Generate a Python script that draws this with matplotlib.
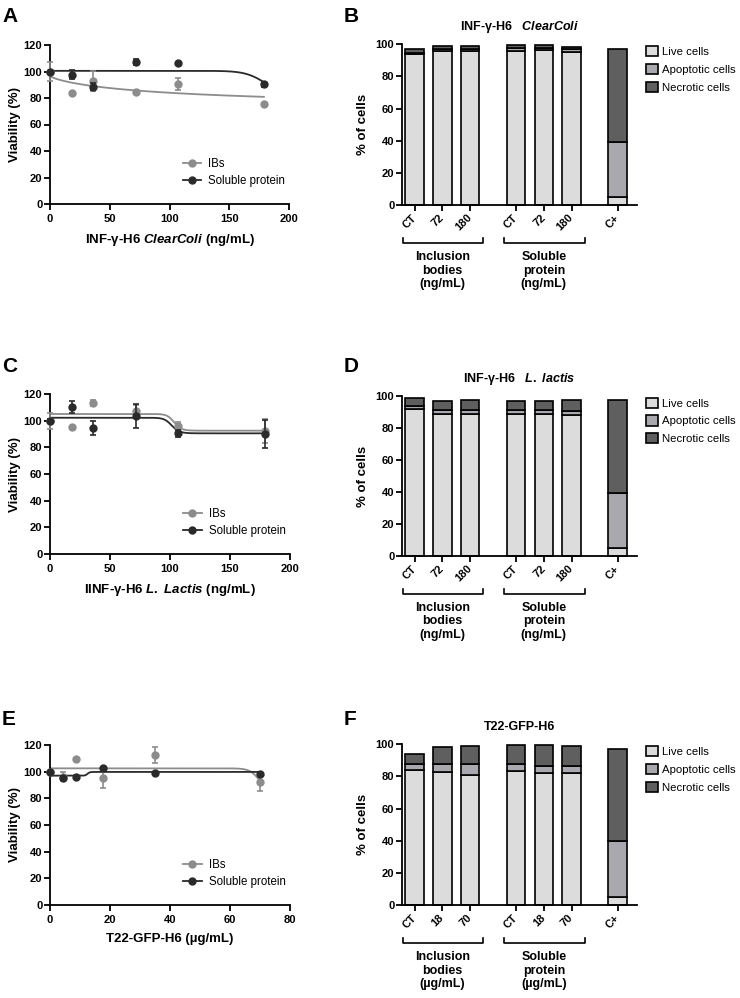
import numpy as np
import matplotlib
matplotlib.use('Agg')
import matplotlib.pyplot as plt
from matplotlib.patches import Patch
from matplotlib.lines import Line2D
import matplotlib.transforms as mtransforms

plt.rcParams['font.family'] = ['Liberation Sans', 'DejaVu Sans']
plt.rcParams['font.weight'] = 'bold'
plt.rcParams['mathtext.fontset'] = 'custom'
plt.rcParams['mathtext.it'] = 'Liberation Sans:italic:bold'
plt.rcParams['mathtext.rm'] = 'Liberation Sans:bold'
plt.rcParams['mathtext.bf'] = 'Liberation Sans:bold'

# ---------------- DATA ----------------
# Panel A : INF-gamma-H6 ClearColi viability
xA = [0, 18, 36, 72, 107, 179]
ibA = [100, 83.6, 92.9, 84.4, 90.4, 75.8]
ibA_err = [7, 0, 7.5, 0, 4.5, 0]
solA = [100, 97.7, 88.6, 107.2, 106.7, 90.4]
solA_err = [0, 3.5, 2.8, 2.2, 0.5, 1.8]
# fitted curves: (top, bottom, EC50, hill)
ibA_fit = (96.5, 70, 114, 0.805)
solA_fit = (100.5, 80, 182, 20)

# Panel C : INF-gamma-H6 L. lactis viability
xC = [0, 18, 36, 72, 107, 179]
ibC = [100, 95.5, 113, 107, 96, 92]
ibC_err = [6, 0, 2.3, 5, 2.7, 9]
solC = [100, 110, 94.8, 103.5, 90.5, 90]
solC_err = [1, 4.6, 5.2, 8.8, 2.5, 10.3]
ibC_fit = (105, 92.5, 103.5, 35)
solC_fit = (102.2, 90.5, 101.5, 32)

# Panel E : T22-GFP-H6 viability
xE = [0, 4.375, 8.75, 17.5, 35, 70]
ibE = [100, 96.3, 109.3, 95, 112.7, 92]
ibE_err = [0, 3.5, 0, 7.5, 6, 6.5]
solE = [100, 95.5, 96, 103, 98.8, 98.5]
solE_err = [0, 1.5, 0, 0, 0, 0]
ibE_fit = (102.5, 80, 70.5, 40)
solE_fit = (97, 99.8, 12.5, 34)

# Bar panels (live / apoptotic / necrotic %)
ticksBD = ["CT", "72", "180", "CT", "72", "180", "C+"]
ticksF = ["CT", "18", "70", "CT", "18", "70", "C+"]

liveB = [94, 96, 96, 96, 96.5, 95.5, 5.2]
apopB = [0.8, 1.0, 0.8, 1.5, 1.0, 1.3, 34.2]
necB = [2.1, 1.8, 2.0, 1.9, 1.9, 1.5, 57.5]

liveD = [92, 89, 88.8, 88.8, 88.8, 88.1, 4.8]
apopD = [1.8, 2.1, 2.5, 2.2, 2.5, 2.5, 34.8]
necD = [5.2, 5.9, 6.4, 5.9, 5.6, 6.9, 57.7]

liveF = [84, 83, 80.7, 83.6, 82.4, 82.4, 5.2]
apopF = [4, 4.5, 6.8, 4.4, 4.1, 4.1, 34.6]
necF = [6.2, 11, 11.5, 11.4, 12.9, 12.5, 57.1]

legend_bars = ["Live cells", "Apoptotic cells", "Necrotic cells"]
legend_lines = ["IBs", "Soluble protein"]

# ---------------- STYLE ----------------
GRAY = '#8c8c8c'
DARK = '#2a2a2a'
LIVE = '#dcdcdc'
APOP = '#a8a8ae'
NEC = '#5f5f5f'
SPW = 1.3

W, H = 740, 998
fig = plt.figure(figsize=(W / 100, H / 100), dpi=100)


def px_axes(left, right, y0, ytop):
    return fig.add_axes([left / W, 1 - y0 / H, (right - left) / W, (y0 - ytop) / H])


def logistic(x, top, bottom, ec50, hill):
    x = np.asarray(x, dtype=float)
    return bottom + (top - bottom) / (1 + (x / ec50) ** hill)


def style_axes(ax):
    for s in ['top', 'right']:
        ax.spines[s].set_visible(False)
    for s in ['left', 'bottom']:
        ax.spines[s].set_linewidth(SPW)
    ax.tick_params(direction='out', length=4, width=SPW, labelsize=8, pad=1.5)


def viability(ax, x, ib, ib_err, sol, sol_err, ib_fit, sol_fit, xmax, xstep, xlabel):
    style_axes(ax)
    ax.set_xlim(0, xmax)
    ax.set_ylim(0, 120)
    ax.set_xticks(np.arange(0, xmax + 1, xstep))
    ax.set_yticks(np.arange(0, 121, 20))
    ax.tick_params(axis='x', pad=3)
    xx = np.linspace(0, x[-1], 600)
    ax.plot(xx, logistic(xx, *ib_fit), color=GRAY, lw=1.3, clip_on=False)
    ax.plot(xx, logistic(xx, *sol_fit), color=DARK, lw=1.3, clip_on=False)
    ax.errorbar(x, ib, yerr=ib_err, fmt='o', color=GRAY, ms=5, capsize=2.5,
                elinewidth=1.2, capthick=1.2, clip_on=False, zorder=3)
    ax.errorbar(x, sol, yerr=sol_err, fmt='o', color=DARK, ms=5, capsize=2.5,
                elinewidth=1.2, capthick=1.2, clip_on=False, zorder=4)
    ax.set_ylabel("Viability (%)", fontsize=9.5, fontweight='bold', labelpad=2)
    ax.set_xlabel(xlabel, fontsize=9.5, fontweight='bold', labelpad=6)
    handles = [Line2D([], [], color=GRAY, marker='o', ms=5, lw=1.3),
               Line2D([], [], color=DARK, marker='o', ms=5, lw=1.3)]
    ax.legend(handles, legend_lines, loc='lower left', bbox_to_anchor=(0.555, 0.105),
              frameon=False, prop={'size': 8.3, 'weight': 'normal'}, handlelength=1.6,
              handletextpad=0.6, labelspacing=0.45, borderaxespad=0, borderpad=0)


group_offsets = [0, 3.65, 7.3]


def bars(ax, live, apop, nec, ticklabels, title, unit):
    style_axes(ax)
    live = np.array(live); apop = np.array(apop); nec = np.array(nec)
    pos = np.array([group_offsets[0] + i for i in range(3)] +
                   [group_offsets[1] + i for i in range(3)] + [group_offsets[2]])
    wd = 0.66
    kw = dict(width=wd, edgecolor='black', linewidth=1.2, clip_on=False)
    ax.bar(pos, live, color=LIVE, **kw)
    ax.bar(pos, apop, bottom=live, color=APOP, **kw)
    ax.bar(pos, nec, bottom=live + apop, color=NEC, **kw)
    ax.set_xlim(-0.45, 8.0)
    ax.set_ylim(0, 100)
    ax.set_yticks(np.arange(0, 101, 20))
    ax.set_xticks(pos)
    ax.set_xticklabels(ticklabels, rotation=45, ha='right', va='center',
                       rotation_mode='anchor', fontsize=8, fontweight='bold')
    ax.tick_params(axis='x', pad=4)
    ax.set_ylabel("% of cells", fontsize=9.5, fontweight='bold', labelpad=5)
    ax.set_title(title, fontsize=9, fontweight='bold', pad=10)
    trans = mtransforms.blended_transform_factory(ax.transData, ax.transAxes)
    names = ["Inclusion\nbodies\n" + unit, "Soluble\nprotein\n" + unit]
    for g in range(2):
        x0 = pos[g * 3] - 0.42
        x1 = pos[g * 3 + 2] + 0.48
        ax.plot([x0, x0, x1, x1], [-0.205, -0.238, -0.238, -0.205], color='black',
                lw=1.2, transform=trans, clip_on=False)
        ax.text(pos[g * 3 + 1], -0.285, names[g], transform=trans, ha='center', va='top',
                fontsize=9, fontweight='bold', linespacing=1.2)
    handles = [Patch(facecolor=c, edgecolor='black', linewidth=1.2)
               for c in (LIVE, APOP, NEC)]
    ax.legend(handles, legend_bars, loc='upper left', bbox_to_anchor=(1.04, 0.99),
              frameon=False, prop={'size': 8.2, 'weight': 'normal'}, handlelength=1.0,
              handleheight=1.0, handletextpad=0.4, labelspacing=0.6, borderaxespad=0,
              borderpad=0)


axA = px_axes(50, 289, 204, 45)
viability(axA, xA, ibA, ibA_err, solA, solA_err, ibA_fit, solA_fit, 200, 50,
          r"INF-γ-H6 $\mathit{ClearColi}$ (ng/mL)")
axC = px_axes(50, 290, 554, 394)
viability(axC, xC, ibC, ibC_err, solC, solC_err, ibC_fit, solC_fit, 200, 50,
          r"IINF-γ-H6 $\mathit{L.\ Lactis}$ (ng/mL)")
axE = px_axes(50, 290, 905, 745)
viability(axE, xE, ibE, ibE_err, solE, solE_err, ibE_fit, solE_fit, 80, 20,
          "T22-GFP-H6 (µg/mL)")

axB = px_axes(402, 637, 205, 44.3)
bars(axB, liveB, apopB, necB, ticksBD, r"INF-γ-H6   $\mathit{ClearColi}$", "(ng/mL)")
axD = px_axes(402, 637, 556, 396)
bars(axD, liveD, apopD, necD, ticksBD, r"INF-γ-H6   $\mathit{L.\ lactis}$", "(ng/mL)")
axF = px_axes(402, 637, 905, 744.3)
bars(axF, liveF, apopF, necF, ticksF, "T22-GFP-H6", "(µg/mL)")

for letter, xp, yp in [("A", 2, 7), ("B", 344, 7), ("C", 2, 357), ("D", 344, 357),
                       ("E", 2, 710), ("F", 344, 710)]:
    fig.text(xp / W, 1 - yp / H, letter, fontsize=15, fontweight='bold', va='top', ha='left')

fig.savefig("out.png", dpi=100)
